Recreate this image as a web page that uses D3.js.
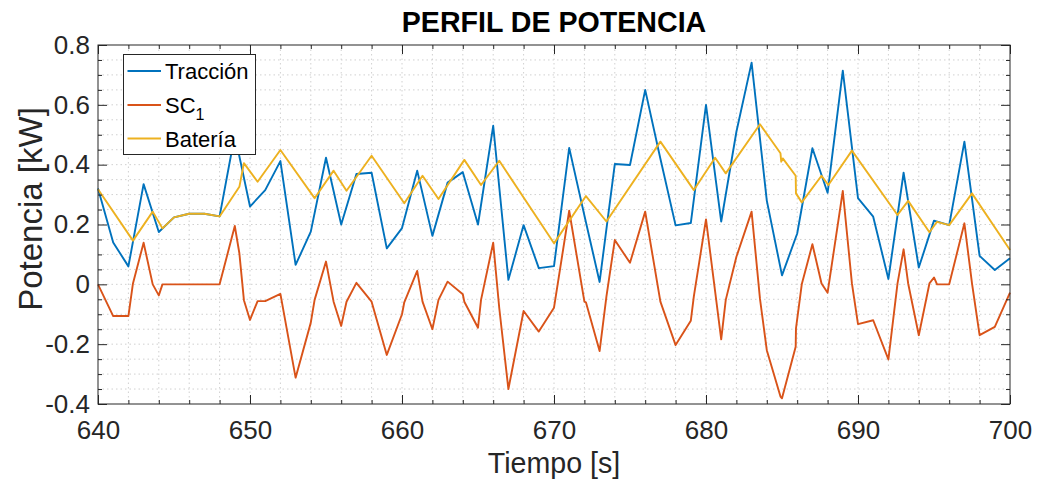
<!DOCTYPE html>
<html>
<head>
<meta charset="utf-8">
<script src="https://cdn.jsdelivr.net/npm/d3@7"></script>
<style>
  html, body { margin: 0; padding: 0; background: #fff; }
  svg { display: block; font-family: "Liberation Sans", Arial, Helvetica, sans-serif; }
</style>
</head>
<body>
<svg id="chart" width="1040" height="485"></svg>
<script>
// ---------- DATA ----------
const tracTime = [640,641,642,643,644,645,646,647,648,649,650,651,652,653,654,655,656,657,658,659,
  660,661,662,663,664,665,666,667,668,669,670,671,672,673,674,675,676,677,678,679,
  680,681,682,683,684,685,686,687,688,689,690,691,692,693,694,695,696,697,698,699,700];
const tracValues = [0.32,0.14,0.06,0.335,0.175,0.224,0.236,0.236,0.227,0.50,
  0.26,0.315,0.412,0.065,0.176,0.423,0.20,0.369,0.373,0.12,
  0.188,0.38,0.162,0.34,0.375,0.20,0.53,0.015,0.198,0.054,
  0.061,0.456,0.23,0.008,0.402,0.399,0.65,0.42,0.197,0.205,
  0.60,0.21,0.51,0.741,0.28,0.03,0.17,0.455,0.306,0.714,
  0.288,0.226,0.018,0.373,0.056,0.213,0.198,0.477,0.095,0.048,0.087];

const scTime = [640,641,642,642.3,643,643.6,644,644.24,648,649,649.3,649.6,650,650.5,651,652,653,654,654.25,
  655,655.5,656,656.35,657,658,659,660,660.15,661,661.35,662,662.4,663,664,664.1,665,665.2,666,666.4,
  667,668,669,670,671,672,672.1,673,673.45,674,675,676,677,678,679,679.2,680,681,681.3,682,683,683.55,
  684,684.9,685,685.9,685.92,686.3,687,687.6,688,689,689.6,690,691,692,692.6,693,693.3,694,694.7,695,695.2,
  696,697,697.5,698,699,700];
const scValues = [0,-0.106,-0.106,0.003,0.139,0,-0.037,0,0,0.195,0.104,-0.053,-0.119,-0.056,-0.056,-0.032,-0.312,-0.128,-0.052,
  0.076,-0.058,-0.139,-0.058,0.005,-0.058,-0.236,-0.10,-0.06,0.045,-0.058,-0.15,-0.052,0.009,-0.033,-0.058,-0.145,-0.052,0.139,-0.08,
  -0.35,-0.089,-0.158,-0.078,0.246,-0.058,-0.06,-0.223,-0.04,0.148,0.072,0.243,-0.058,-0.203,-0.122,-0.04,0.217,-0.184,-0.052,0.092,0.243,-0.048,
  -0.22,-0.375,-0.381,-0.209,-0.147,0.0,0.134,0.003,-0.028,0.312,0.003,-0.133,-0.12,-0.251,0.003,0.117,0.003,-0.17,0.003,0.023,0,
  0,0.204,0.003,-0.17,-0.142,-0.028];

const batTime = [640,642.3,643.6,644.24,645,646,647,648,649.3,649.6,650.5,652,654.25,655.5,656.35,658,660.15,661.35,662.4,
  664.1,665.2,666.4,670,672.1,673.45,677,679.2,680.6,681.3,683.55,684.9,684.95,685.05,685.9,685.92,686.3,687.6,688.05,
  689.6,692.6,693.3,694.7,695.2,696,697.5,700];
const batValues = [0.318,0.146,0.243,0.187,0.224,0.236,0.236,0.227,0.326,0.405,0.343,0.449,0.288,0.38,0.313,0.43,0.271,0.363,0.285,
  0.416,0.332,0.413,0.137,0.295,0.21,0.477,0.315,0.423,0.371,0.535,0.438,0.41,0.421,0.363,0.304,0.274,0.363,0.332,
  0.447,0.232,0.279,0.174,0.209,0.198,0.304,0.115];

const xTicks = [640,650,660,670,680,690,700];
const yTicks = [-0.4,-0.2,0,0.2,0.4,0.6,0.8];
const yTickLabels = ["-0.4","-0.2","0","0.2","0.4","0.6","0.8"];
const seriesNames = ["Tracción","SC","Batería"];
const seriesColors = ["#0072BD","#D95319","#EDB120"];

// ---------- LAYOUT ----------
const L = 98, R = 1010, T = 45, B = 404;
const svg = d3.select("#chart");
const x = d3.scaleLinear().domain([640,700]).range([L,R]);
const y = d3.scaleLinear().domain([-0.4,0.8]).range([B,T]);
const axisColor = "#262626";

// grid (dotted)
const gridX = d3.range(642, 700, 2);
const gridY = d3.range(-0.35, 0.8, 0.05).map(v => +v.toFixed(2));
const g = svg.append("g");
g.selectAll("line.gx").data(gridX).join("line")
  .attr("x1", d => x(d)).attr("x2", d => x(d)).attr("y1", T).attr("y2", B)
  .attr("stroke", "#d0d0d0").attr("stroke-width", 1).attr("stroke-dasharray", "1.5,3");
g.selectAll("line.gy").data(gridY).join("line")
  .attr("y1", d => y(d)).attr("y2", d => y(d)).attr("x1", L).attr("x2", R)
  .attr("stroke", "#d0d0d0").attr("stroke-width", 1).attr("stroke-dasharray", "1.5,3");

// lines
const plot = svg.append("g");
const sets = [[tracTime, tracValues],[scTime, scValues],[batTime, batValues]];
sets.forEach((s, i) => {
  const pts = s[0].map((t, k) => [t, s[1][k]]);
  plot.append("path").datum(pts)
    .attr("fill", "none").attr("stroke", seriesColors[i]).attr("stroke-width", 1.9)
    .attr("stroke-linejoin", "round")
    .attr("d", d3.line().x(d => x(d[0])).y(d => y(d[1])));
});

// axes
const fs = 26;
function styleAxis(sel) {
  sel.select(".domain").remove();
  sel.selectAll("line").attr("stroke", axisColor);
  sel.selectAll("text").attr("fill", axisColor).attr("font-size", fs).attr("font-family", "Liberation Sans, Arial, sans-serif");
}
svg.append("g").attr("transform", `translate(0,${B})`)
  .call(d3.axisBottom(x).tickValues(xTicks).tickSizeInner(-9).tickSizeOuter(0).tickPadding(17).tickFormat(d3.format("d")))
  .call(styleAxis);
svg.append("g").attr("transform", `translate(0,${T})`)
  .call(d3.axisTop(x).tickValues(xTicks).tickSizeInner(-9).tickSizeOuter(0).tickFormat(""))
  .call(styleAxis);
svg.append("g").attr("transform", `translate(${L},0)`)
  .call(d3.axisLeft(y).tickValues(yTicks).tickSizeInner(-9).tickSizeOuter(0).tickPadding(8)
    .tickFormat((d, i) => yTickLabels[i]))
  .call(styleAxis);
svg.append("g").attr("transform", `translate(${R},0)`)
  .call(d3.axisRight(y).tickValues(yTicks).tickSizeInner(-9).tickSizeOuter(0).tickFormat(""))
  .call(styleAxis);
// minor ticks
const minorX = gridX.filter(d => d % 10 !== 0);
const minorY = gridY.filter(d => Math.abs(Math.round(d*5) - d*5) > 1e-6);
[[d3.axisBottom(x), `translate(0,${B})`, minorX],[d3.axisTop(x), `translate(0,${T})`, minorX],
 [d3.axisLeft(y), `translate(${L},0)`, minorY],[d3.axisRight(y), `translate(${R},0)`, minorY]].forEach(a => {
  svg.append("g").attr("transform", a[1])
    .call(a[0].tickValues(a[2]).tickSizeInner(-4).tickSizeOuter(0).tickFormat(""))
    .call(styleAxis);
});
// box
svg.append("rect").attr("x", L).attr("y", T).attr("width", R-L).attr("height", B-T)
  .attr("fill", "none").attr("stroke", axisColor).attr("stroke-width", 1);

// title and labels
svg.append("text").attr("x", (L+R)/2).attr("y", 32).attr("text-anchor", "middle")
  .attr("font-size", 28.6).attr("font-weight", "bold").attr("fill", "#000").text("PERFIL DE POTENCIA");
svg.append("text").attr("x", (L+R)/2).attr("y", 473).attr("text-anchor", "middle")
  .attr("font-size", 28.6).attr("fill", axisColor).text("Tiempo [s]");
svg.append("text").attr("transform", `translate(42,209) rotate(-90)`).attr("text-anchor", "middle")
  .attr("font-size", 33).attr("fill", axisColor).text("Potencia [kW]");

// legend
const lg = svg.append("g");
lg.append("rect").attr("x", 123.5).attr("y", 54.5).attr("width", 132).attr("height", 100)
  .attr("fill", "#fff").attr("stroke", axisColor).attr("stroke-width", 1);
const rowY = [71, 105, 138.5];
seriesNames.forEach((n, i) => {
  lg.append("line").attr("x1", 127.5).attr("x2", 161).attr("y1", rowY[i]).attr("y2", rowY[i])
    .attr("stroke", seriesColors[i]).attr("stroke-width", 1.9);
  const t = lg.append("text").attr("x", 165).attr("y", rowY[i] + 8).attr("font-size", 22).attr("fill", "#000").text(n);
  if (i === 1) {
    t.append("tspan").attr("dy", 7).attr("font-size", 16).text("1");
  }
});
</script>
</body>
</html>
